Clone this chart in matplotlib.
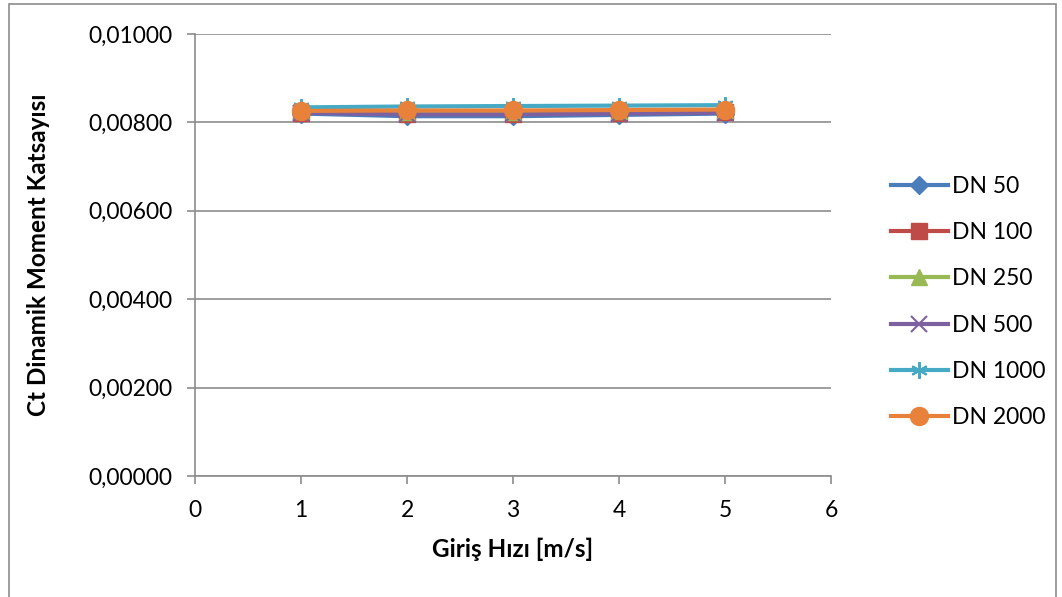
import matplotlib.pyplot as plt
from matplotlib.patches import Rectangle
from matplotlib.ticker import FuncFormatter

plt.rcParams['font.family'] = ['Lato', 'DejaVu Sans']

# inlet velocity [m/s]
hiz = [1, 2, 3, 4, 5]

dn50 = [0.00820, 0.00814, 0.00814, 0.00817, 0.00820]
dn100 = [0.00822, 0.00820, 0.00820, 0.00822, 0.00824]
dn250 = [0.00825, 0.00823, 0.00823, 0.00825, 0.00827]
dn500 = [0.00822, 0.00818, 0.00818, 0.00820, 0.00822]
dn1000 = [0.00834, 0.00836, 0.00837, 0.00838, 0.00839]
dn2000 = [0.00826, 0.00827, 0.00827, 0.00828, 0.00829]

labels = ['DN 50', 'DN 100', 'DN 250', 'DN 500', 'DN 1000', 'DN 2000']

fig = plt.figure(figsize=(10.62, 5.97), dpi=100)
ax = fig.add_axes([195 / 1062, 1 - 476 / 597, 636 / 1062, 442 / 597])

# outer chart border
fig.patches.append(Rectangle((9 / 1062, -0.01), 1047 / 1062, 1 - 4 / 597 + 0.01,
                             transform=fig.transFigure, fill=False,
                             edgecolor='#8c8c8c', linewidth=1.2))

ax.plot(hiz, dn50, color='#4A7EBB', lw=3, marker='D', ms=9, label=labels[0])
ax.plot(hiz, dn100, color='#BE4B48', lw=3, marker='s', ms=11, label=labels[1])
ax.plot(hiz, dn250, color='#98B954', lw=3, marker='^', ms=11, label=labels[2])
ax.plot(hiz, dn500, color='#7D60A0', lw=3, marker='x', ms=11, mew=1.5, label=labels[3])
ax.plot(hiz, dn1000, color='#46AAC5', lw=3, marker=(6, 2, 0), ms=12, mew=1.5, label=labels[4])
ax.plot(hiz, dn2000, color='#E8823A', lw=3, marker='o', ms=13, label=labels[5])

ax.set_xlim(0, 6)
ax.set_ylim(0, 0.01)
ax.set_xticks(range(0, 7))
ax.set_yticks([0, 0.002, 0.004, 0.006, 0.008, 0.010])
ax.yaxis.set_major_formatter(FuncFormatter(lambda v, p: f'{v:.5f}'.replace('.', ',')))

ax.grid(axis='y', color='#8c8c8c', lw=1.2)
ax.set_axisbelow(True)
for s in ['top', 'right']:
    ax.spines[s].set_visible(False)
for s in ['left', 'bottom']:
    ax.spines[s].set_color('#8c8c8c')
    ax.spines[s].set_linewidth(1.2)
ax.tick_params(axis='both', colors='#8c8c8c', labelcolor='black', labelsize=16.5,
               length=6, width=1.2)
ax.tick_params(axis='y', pad=10)
ax.tick_params(axis='x', pad=11)

ax.set_xlabel('Giriş Hızı [m/s]', fontsize=17.5, fontweight='bold', labelpad=12)
ax.set_ylabel('Ct Dinamik Moment Katsayısı', fontsize=17.5, fontweight='bold', labelpad=28)

ax.legend(loc='center left', bbox_to_anchor=(870 / 1062, 1 - 302 / 597),
          bbox_transform=fig.transFigure, frameon=False, fontsize=16.5,
          handlelength=2.5, handletextpad=0.2, labelspacing=1.1)

fig.savefig('out.png', dpi=100)
